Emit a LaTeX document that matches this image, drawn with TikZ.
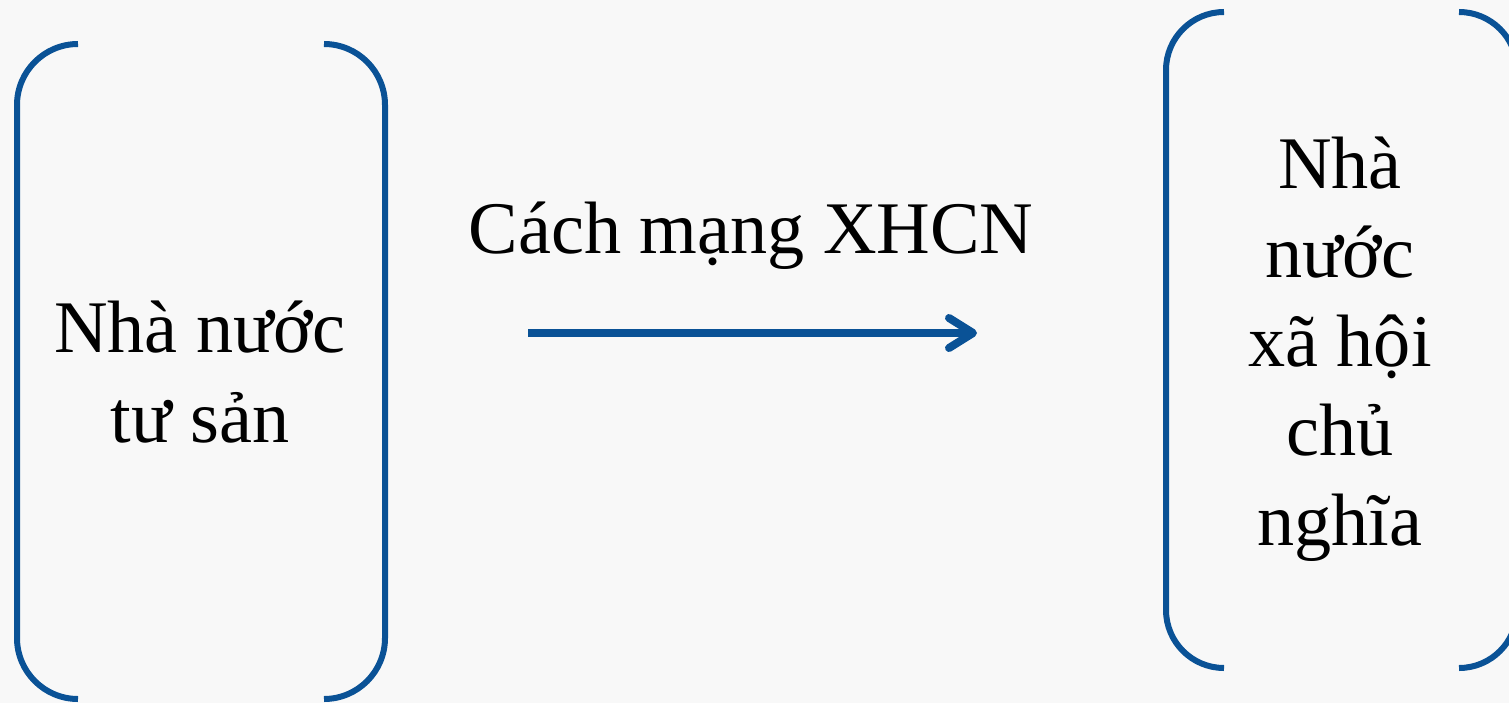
\documentclass[tikz,border=0pt]{standalone}
\usepackage{fontspec}
\setmainfont{Liberation Serif}
\usetikzlibrary{arrows.meta}
\definecolor{bluebr}{RGB}{10,82,150}
\definecolor{bgc}{RGB}{248,248,248}
\begin{document}
\begin{tikzpicture}[x=1bp,y=-1bp,
  bracket/.style={draw=bluebr,line width=6bp},
  lbl/.style={font=\fontsize{74.5}{89.5}\selectfont,align=center,anchor=base,inner sep=0pt},
  flow/.style={draw=bluebr,line width=8bp,-{Straight Barb[round,length=24bp,width=30bp]}}]
\useasboundingbox (0,0) rectangle (1509,703);
\fill[bgc] (0,0) rectangle (1509,703);
\clip (0,0) rectangle (1509,703);
% left bracket box
\draw[bracket] (78,44) arc[start angle=-90,end angle=-180,radius=61] -- (17,638) arc[start angle=180,end angle=90,radius=61];
\draw[bracket] (324,44) arc[start angle=-90,end angle=0,radius=61] -- (385,638) arc[start angle=0,end angle=90,radius=61];
% right bracket box
\draw[bracket] (1224,12) arc[start angle=-90,end angle=-180,radius=58] -- (1166,610) arc[start angle=180,end angle=90,radius=58];
\draw[bracket] (1459,12) arc[start angle=-90,end angle=0,radius=58] -- (1517,610) arc[start angle=0,end angle=90,radius=58];
% texts
\node[lbl] (left) at (200,442) {Nhà nước\\tư sản};
\node[lbl] (right) at (1340,545) {Nhà\\nước\\xã hội\\chủ\\nghĩa};
\node[lbl] (rev) at (751,253) {Cách mạng XHCN};
% arrow
\coordinate (a0) at (528,333);
\coordinate (a1) at (977,333);
\draw[flow] (a0) -- (a1);
\end{tikzpicture}
\end{document}
